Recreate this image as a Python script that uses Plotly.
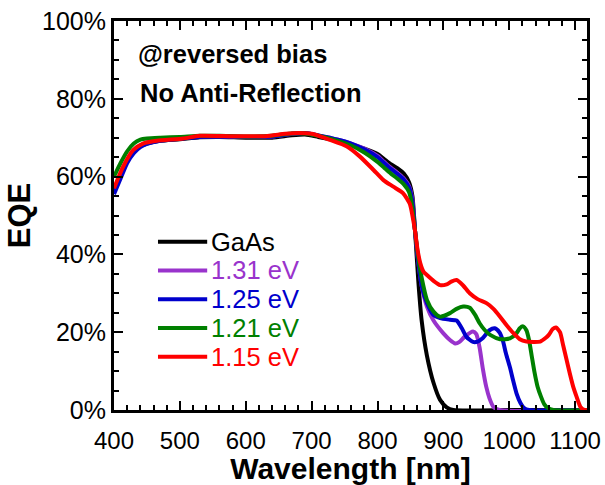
import plotly.graph_objects as go

# ---------------- data ----------------
gaas_wl = [400, 410, 420, 430, 440, 450, 470, 500, 530, 560, 600, 640, 670, 690, 710, 740, 760, 780, 800, 810,
           820, 830, 840, 848, 853, 857, 862, 867, 875, 885, 895, 905, 915, 1000, 1118]
gaas_eqe = [56.5, 60.5, 64, 66.5, 67.8, 68.5, 69.2, 69.6, 70.1, 70.2, 70, 70, 70.6, 70.8, 70.2, 69.2, 68.3, 67.2, 65.8, 64.5,
            63.2, 62.2, 60.8, 58.5, 55, 46, 33, 23, 14, 7, 2.6, 0.7, 0, 0, 0]

e131_wl = [400, 410, 420, 430, 440, 450, 470, 500, 530, 560, 600, 640, 670, 690, 710, 740, 760, 780, 800, 810,
           820, 830, 840, 848, 853, 857, 862, 867, 875, 885, 900, 910, 918, 925, 932, 945, 950, 955, 960, 965,
           970, 976, 985, 1118]
e131_eqe = [56, 60.5, 64, 66.5, 68, 68.8, 69.4, 69.8, 70.3, 70.3, 70.2, 70.3, 71, 71.2, 70.6, 69.5, 68.5, 67.2, 65.3, 63.8,
            62.3, 61, 59.5, 57.5, 54, 46, 38, 32, 26.6, 23, 19.7, 18, 17.1, 17.6, 18.8, 20.2, 19.5, 16, 10.5, 6,
            3, 0.8, 0, 0]

e125_wl = [400, 410, 420, 430, 440, 450, 470, 500, 530, 560, 600, 640, 670, 690, 710, 740, 760, 780, 800, 810,
           820, 830, 840, 848, 853, 857, 862, 867, 875, 885, 895, 910, 920, 928, 935, 945, 952, 960, 970, 978,
           985, 990, 995, 1001, 1006, 1011, 1017, 1022, 1030, 1118]
e125_eqe = [55.5, 59.5, 63.5, 66, 67.6, 68.4, 69.2, 69.7, 70.2, 70.3, 70.2, 70.3, 71, 71.2, 70.6, 69.5, 68.5, 67, 65, 63.5,
            62, 60.7, 59.2, 57.2, 53.5, 46, 38, 32, 27.5, 24.4, 23.6, 23.2, 23, 21, 18.8, 17.5, 17.6, 18.5, 20.5, 21,
            20, 18, 14.5, 11, 7.5, 4.3, 1.8, 0.6, 0, 0]

e121_wl = [400, 410, 420, 430, 440, 450, 470, 500, 530, 560, 600, 640, 670, 690, 710, 740, 760, 780, 800, 810,
           820, 830, 840, 848, 853, 857, 862, 867, 875, 885, 895, 910, 920, 930, 940, 948, 955, 963, 971, 986,
           1001, 1010, 1016, 1021, 1026, 1030, 1034, 1038, 1043, 1048, 1053, 1058, 1067, 1118]
e121_eqe = [60, 63.5, 66.5, 68.5, 69.5, 69.8, 70, 70.2, 70.5, 70.5, 70.3, 70.5, 71.1, 71.1, 70.5, 69.2, 68, 66.2, 63.8, 62.3,
            60.8, 59.5, 58, 56, 52, 46, 39, 34, 28.3, 25.3, 24, 24.9, 26, 26.6, 26.3, 24.5, 22.3, 20.5, 19.3, 18.2,
            18.4, 19.5, 21, 21.5, 20.5, 18, 14, 10, 6, 3.5, 1.5, 0.6, 0, 0]

e115_wl = [400, 414, 429, 444, 465, 505, 530, 580, 630, 660, 680, 700, 730, 753, 773, 794, 809, 824, 839, 849,
           853, 857, 861, 865, 870, 875, 885, 895, 905, 912, 920, 930, 940, 952, 966, 976, 986, 996, 1006, 1016,
           1026, 1047, 1055, 1060, 1066, 1071, 1077, 1082, 1087, 1092, 1097, 1102, 1108, 1114, 1118]
e115_eqe = [57, 62.6, 66.8, 68.5, 69.2, 69.8, 70.5, 70.4, 70.4, 71, 71.2, 71, 69.3, 67.8, 65.2, 61.7, 59.1, 57.4, 55.7, 53,
            50, 46, 41, 37.7, 35.5, 34.7, 33.2, 32.1, 32.3, 33, 33.4, 32, 30, 28.5, 27.4, 26, 24, 21.8, 19.8, 18.2,
            17.6, 17.6, 18.5, 19.3, 20.8, 21.2, 20, 16.5, 12.9, 9.3, 6, 3.5, 0.8, 0, 0]

series_names = ["GaAs", "1.31 eV", "1.25 eV", "1.21 eV", "1.15 eV"]
series_colors = ["#000000", "#9933CC", "#0000CC", "#008000", "#FF0000"]
series_x = [gaas_wl, e131_wl, e125_wl, e121_wl, e115_wl]
series_y = [gaas_eqe, e131_eqe, e125_eqe, e121_eqe, e115_eqe]

x_ticks = [400, 500, 600, 700, 800, 900, 1000, 1100]
x_tick_labels = ["400", "500", "600", "700", "800", "900", "1000", "1100"]
y_ticks = [0, 20, 40, 60, 80, 100]
y_tick_labels = ["0%", "20%", "40%", "60%", "80%", "100%"]

FONT = "Liberation Sans, Arial, sans-serif"

fig = go.Figure()
for name, col, xs, ys in zip(series_names, series_colors, series_x, series_y):
    fig.add_trace(go.Scatter(x=xs, y=ys, mode="lines", name=name,
                             line=dict(color=col, width=4, shape="spline", smoothing=0.6),
                             showlegend=False))

# manual legend (paper coordinates)
leg_top = 0.4327
leg_step = 0.0740
for i, (name, col) in enumerate(zip(series_names, series_colors)):
    yy = leg_top - i * leg_step
    fig.add_shape(type="line", xref="paper", yref="paper", x0=0.093, x1=0.197, y0=yy, y1=yy,
                  line=dict(color=col, width=4))
    fig.add_annotation(xref="paper", yref="paper", x=0.200, y=yy, xanchor="left", yanchor="middle",
                       text=name, showarrow=False, font=dict(family=FONT, size=25.5, color=col))

fig.add_annotation(xref="paper", yref="paper", x=0.046, y=0.915, xanchor="left", yanchor="middle",
                   text="<b>@reversed bias</b>", showarrow=False, font=dict(family=FONT, size=25.5, color="black"))
fig.add_annotation(xref="paper", yref="paper", x=0.050, y=0.816, xanchor="left", yanchor="middle",
                   text="<b>No Anti-Reflection</b>", showarrow=False, font=dict(family=FONT, size=25.5, color="black"))

axis_common = dict(showline=True, linecolor="black", linewidth=3, mirror="allticks",
                   ticks="inside", ticklen=9, tickwidth=2, tickcolor="black",
                   showgrid=False, zeroline=False, automargin=False)

fig.update_xaxes(range=[400, 1118], tickmode="array", tickvals=x_ticks, ticktext=x_tick_labels,
                 ticklabelstandoff=7, tickfont=dict(family=FONT, size=24, color="black"),
                 minor=dict(dtick=20, tick0=400, ticks="inside", ticklen=5, tickwidth=1.5, tickcolor="black"),
                 title=dict(text="<b>Wavelength [nm]</b>", font=dict(family=FONT, size=30, color="black"), standoff=2),
                 **axis_common)
fig.update_yaxes(range=[0, 100], tickmode="array", tickvals=y_ticks, ticktext=y_tick_labels,
                 tickfont=dict(family=FONT, size=25, color="black"),
                 minor=dict(dtick=5, tick0=0, ticks="inside", ticklen=5, tickwidth=1.5, tickcolor="black"),
                 title=dict(text="<b>EQE</b>", font=dict(family=FONT, size=31, color="black"), standoff=3),
                 **axis_common)

fig.update_layout(width=605, height=485, margin=dict(l=114, r=18, t=21, b=75),
                  plot_bgcolor="white", paper_bgcolor="white", showlegend=False)

fig.write_html("out.html")
